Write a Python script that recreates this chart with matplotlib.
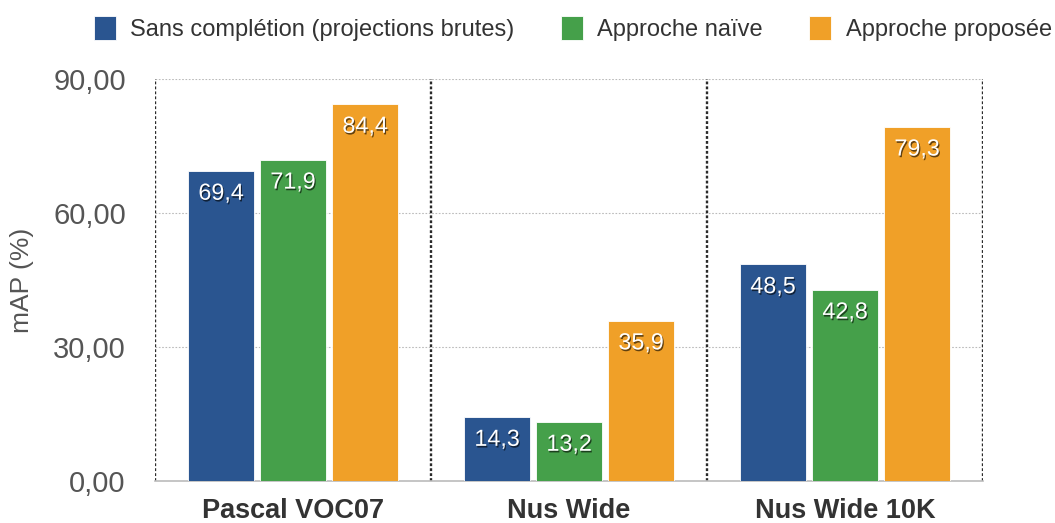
import matplotlib
matplotlib.use('Agg')
import matplotlib.pyplot as plt
import matplotlib.patheffects as pe
import numpy as np

# data
datasets = ['Pascal VOC07', 'Nus Wide', 'Nus Wide 10K']
series = ['Sans complétion (projections brutes)', 'Approche naïve', 'Approche proposée']
sans_completion = [69.4, 14.3, 48.5]
naive = [71.9, 13.2, 42.8]
proposee = [84.4, 35.9, 79.3]
yticks = [0, 30, 60, 90]

colors = ['#2a5590', '#45a04a', '#f0a028']

plt.rcParams['font.family'] = ['Liberation Sans', 'DejaVu Sans']

fig = plt.figure(figsize=(10.55, 5.23), dpi=100)
ax = fig.add_axes([155 / 1055, 1 - 481 / 523, (983 - 155) / 1055, (481 - 79) / 523])

x = np.arange(len(datasets))
width = 0.239
step = 0.261
shadow = [pe.withSimplePatchShadow(offset=(0.8, -1.2), shadow_rgbFace='black', alpha=0.6)]

for i, (vals, col, name) in enumerate(zip([sans_completion, naive, proposee], colors, series)):
    pos = x + (i - 1) * step
    bars = ax.bar(pos, vals, width, color=col, label=name, edgecolor='white', linewidth=0.6, zorder=3)
    for b, v in zip(bars, vals):
        ax.text(b.get_x() + b.get_width() / 2, v - 2.4, f'{v:.1f}'.replace('.', ','),
                ha='center', va='top', color='white', fontsize=16.8, zorder=4,
                path_effects=shadow)

ax.set_xlim(-0.5, 2.5)
ax.set_ylim(0, 90)
ax.set_yticks(yticks)
ax.set_yticklabels([f'{t},00' for t in yticks], fontsize=21, color='#555555')
ax.set_xticks(x)
ax.set_xticklabels(datasets, fontsize=19.5, fontweight='bold', color='#333333')
ax.tick_params(axis='both', length=0)
ax.tick_params(axis='y', pad=21)
ax.tick_params(axis='x', pad=12)
ax.set_ylabel('mAP (%)', fontsize=19, color='#555555', labelpad=14)

for t in [30, 60, 90]:
    ax.axhline(t, color='#bbbbbb', linestyle=(0, (1.5, 1.5)), linewidth=0.8, zorder=1)
for b in [-0.5, 0.5, 1.5, 2.5]:
    ax.axvline(b, color='#2a2a2a', linestyle=(0, (1.2, 0.9)), linewidth=1.7, zorder=2)

for s in ['top', 'left', 'right']:
    ax.spines[s].set_visible(False)
ax.spines['bottom'].set_color('#bbbbbb')
ax.spines['bottom'].set_linewidth(1.2)

fig.legend(loc='upper right', bbox_to_anchor=(1073 / 1055, 1.01), ncol=3, frameon=False,
           fontsize=17, handlelength=0.95, handleheight=1.2, handletextpad=0.6,
           columnspacing=1.95, labelcolor='#333333')

fig.savefig('out.png', dpi=100)
